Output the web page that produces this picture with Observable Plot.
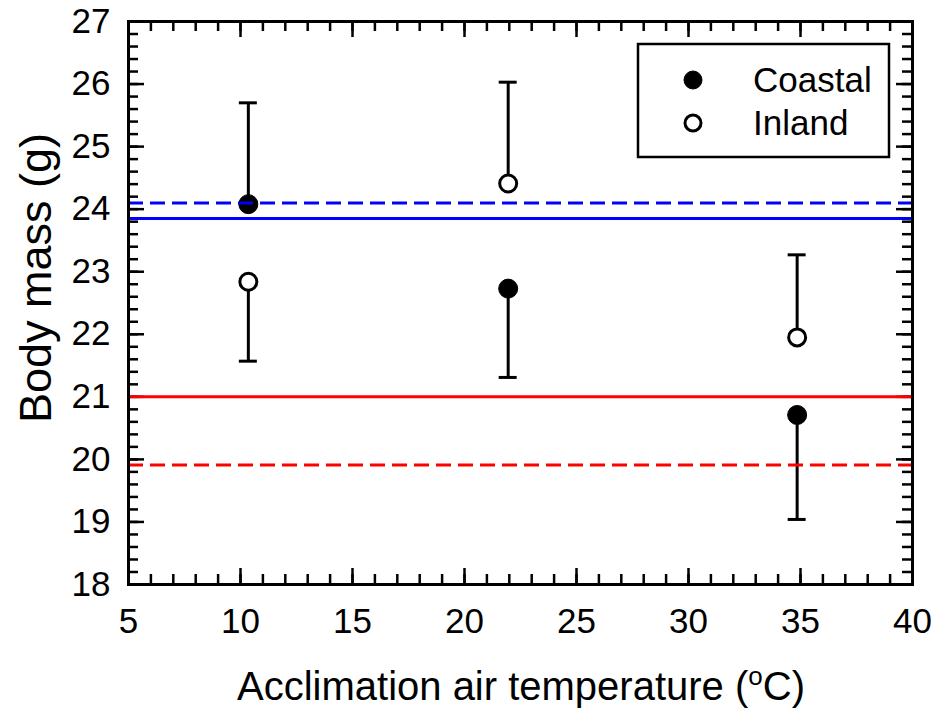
<!DOCTYPE html>
<html><head><meta charset="utf-8">
<script src="https://cdn.jsdelivr.net/npm/d3@7"></script>
<script src="https://cdn.jsdelivr.net/npm/@observablehq/plot@0.6"></script>
<style>
body{margin:0;background:#fff;}
#wrap{position:relative;width:933px;height:713px;font-family:"Liberation Sans",Arial,sans-serif;}
#xtitle{position:absolute;left:129px;width:784px;top:666px;text-align:center;font-size:40px;line-height:1;white-space:nowrap;color:#000;}
#xtitle sup{font-size:26px;vertical-align:0;position:relative;top:-15px;}
#ytitle{position:absolute;left:35px;top:278px;font-size:45px;line-height:1;white-space:nowrap;transform:translate(-50%,-50%) rotate(-90deg);color:#000;}
#legend{position:absolute;left:0;top:0;}
</style>
</head><body><div id="wrap"></div>
<script>
// Data
const temps = [10.35, 21.95, 34.85];
const coastalMean = [24.08, 22.73, 20.71];
const coastalErrEnd = [25.70, 21.31, 19.04];
const inlandMean = [22.84, 24.41, 21.95];
const inlandErrEnd = [21.57, 26.03, 23.27];
const blueDashed = [24.10];
const blueSolid = [23.85];
const redSolid = [21.0];
const redDashed = [19.91];
const xTicks = [5, 10, 15, 20, 25, 30, 35, 40];
const yTicks = [18, 19, 20, 21, 22, 23, 24, 25, 26, 27];
const seriesNames = ["Coastal", "Inland"];

const W = 933, H = 713;
const mL = 128, mR = 21, mT = 21, mB = 129;
const fw = W - mL - mR, fh = H - mT - mB;

const coastal = temps.map((t, i) => ({x: t, mean: coastalMean[i], end: coastalErrEnd[i]}));
const inland = temps.map((t, i) => ({x: t, mean: inlandMean[i], end: inlandErrEnd[i]}));
const all = coastal.concat(inland);

const xMinor = d3.range(xTicks[0], xTicks[xTicks.length - 1] + 0.001, 1);
const yMinor = d3.range(yTicks[0], yTicks[yTicks.length - 1] + 0.001, 0.2);

const tw = 2.5, minorLen = 10, majorLen = 16;

const plot = Plot.plot({
  width: W, height: H,
  marginLeft: mL, marginRight: mR, marginTop: mT, marginBottom: mB,
  style: {fontFamily: '"Liberation Sans", Arial, sans-serif', fontSize: "35px", color: "#000", background: "#fff"},
  x: {domain: [5, 40], ticks: xTicks, tickSize: 0, tickPadding: 24, label: null},
  y: {domain: [18, 27], ticks: yTicks, tickSize: 0, tickPadding: 18, label: null},
  marks: [
    // inward ticks
    Plot.tickX(xMinor, {x: d => d, insetTop: fh - minorLen, strokeWidth: tw, stroke: "#000"}),
    Plot.tickX(xMinor, {x: d => d, insetBottom: fh - minorLen, strokeWidth: tw, stroke: "#000"}),
    Plot.tickX(xTicks, {x: d => d, insetTop: fh - majorLen, strokeWidth: tw, stroke: "#000"}),
    Plot.tickX(xTicks, {x: d => d, insetBottom: fh - majorLen, strokeWidth: tw, stroke: "#000"}),
    Plot.tickY(yMinor, {y: d => d, insetRight: fw - minorLen, strokeWidth: tw, stroke: "#000"}),
    Plot.tickY(yMinor, {y: d => d, insetLeft: fw - minorLen, strokeWidth: tw, stroke: "#000"}),
    Plot.tickY(yTicks, {y: d => d, insetRight: fw - majorLen, strokeWidth: tw, stroke: "#000"}),
    Plot.tickY(yTicks, {y: d => d, insetLeft: fw - majorLen, strokeWidth: tw, stroke: "#000"}),
    // error bars
    Plot.ruleX(all, {x: "x", y1: "mean", y2: "end", stroke: "#000", strokeWidth: 3}),
    Plot.ruleY(all, {y: "end", x1: "x", x2: "x", insetLeft: -9, insetRight: -9, stroke: "#000", strokeWidth: 3}),
    // points
    Plot.dot(coastal, {x: "x", y: "mean", r: 9.5, fill: "#000", stroke: "#000", strokeWidth: 1}),
    Plot.dot(inland, {x: "x", y: "mean", r: 8.5, fill: "#fff", stroke: "#000", strokeWidth: 3}),
    // reference lines
    Plot.ruleY(blueDashed, {y: d => d, stroke: "#0000ff", strokeWidth: 3, strokeDasharray: "15,7"}),
    Plot.ruleY(blueSolid, {y: d => d, stroke: "#0000ff", strokeWidth: 3}),
    Plot.ruleY(redSolid, {y: d => d, stroke: "#ff0000", strokeWidth: 3}),
    Plot.ruleY(redDashed, {y: d => d, stroke: "#ff0000", strokeWidth: 3, strokeDasharray: "15,7"}),
    Plot.frame({stroke: "#000", strokeWidth: 3})
  ]
});

const wrap = document.getElementById("wrap");
wrap.appendChild(plot);

// axis titles
const xt = document.createElement("div");
xt.id = "xtitle";
xt.innerHTML = "Acclimation air temperature (<sup>o</sup>C)";
wrap.appendChild(xt);
const yt = document.createElement("div");
yt.id = "ytitle";
yt.textContent = "Body mass (g)";
wrap.appendChild(yt);

// legend
const ns = "http://www.w3.org/2000/svg";
const lg = document.createElementNS(ns, "svg");
lg.setAttribute("id", "legend");
lg.setAttribute("width", W); lg.setAttribute("height", H);
lg.style.pointerEvents = "none";
const box = document.createElementNS(ns, "rect");
box.setAttribute("x", 638); box.setAttribute("y", 44);
box.setAttribute("width", 251); box.setAttribute("height", 113);
box.setAttribute("fill", "#fff"); box.setAttribute("stroke", "#000"); box.setAttribute("stroke-width", 2.5);
lg.appendChild(box);
seriesNames.forEach((name, i) => {
  const cy = 80 + i * 43;
  const c = document.createElementNS(ns, "circle");
  c.setAttribute("cx", 693); c.setAttribute("cy", cy);
  c.setAttribute("r", i === 0 ? 9 : 8);
  c.setAttribute("fill", i === 0 ? "#000" : "#fff");
  c.setAttribute("stroke", "#000"); c.setAttribute("stroke-width", i === 0 ? 1 : 3);
  lg.appendChild(c);
  const t = document.createElementNS(ns, "text");
  t.setAttribute("x", 753); t.setAttribute("y", cy + 12);
  t.setAttribute("font-size", 35);
  t.setAttribute("font-family", '"Liberation Sans", Arial, sans-serif');
  t.textContent = name;
  lg.appendChild(t);
});
wrap.appendChild(lg);
</script>
</body></html>
